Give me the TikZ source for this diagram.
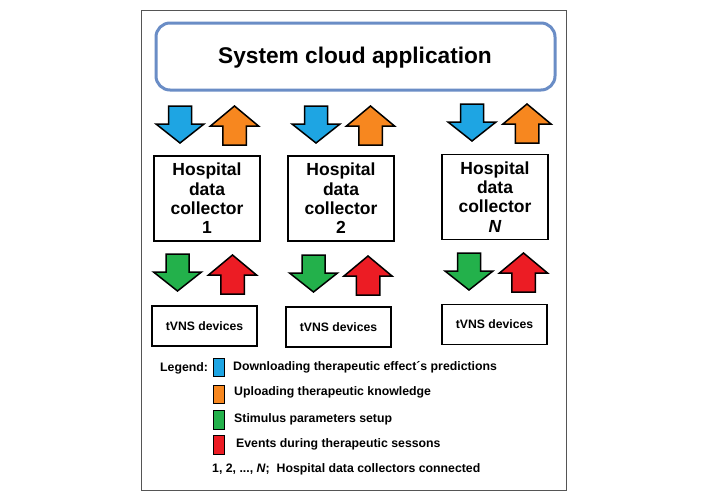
\documentclass[tikz,border=0pt]{standalone}
\usepackage{fontspec}
\setmainfont{Liberation Sans}
\definecolor{cblue}{HTML}{1EA5E3}
\definecolor{corange}{HTML}{F7871F}
\definecolor{cgreen}{HTML}{23B14B}
\definecolor{cred}{HTML}{EC1C24}
\definecolor{cloudline}{HTML}{6A8DC6}
\definecolor{framegray}{HTML}{555555}
\tikzset{
  arrline/.style={draw=black,line width=1.5pt,line join=miter},
  pics/darr/.style={code={
    \filldraw[arrline,fill=#1] (-11.5,0) -- (11.5,0) -- (11.5,18) -- (24,18) -- (0,37) -- (-24,18) -- (-11.5,18) -- cycle;}},
  pics/uarr/.style={code={
    \filldraw[arrline,fill=#1] (0,0) -- (24,20) -- (11.75,20) -- (11.75,39) -- (-11.75,39) -- (-11.75,20) -- (-24,20) -- cycle;}},
  hosp/.style={draw=black,line width=1.8pt,minimum width=106pt,minimum height=85pt,align=center,
    font=\fontsize{17.5}{19.3}\selectfont\bfseries,inner sep=0pt},
  tvns/.style={draw=black,line width=1.8pt,minimum width=105pt,minimum height=40pt,
    font=\fontsize{12.2}{14}\selectfont\bfseries,inner sep=0pt},
  legtext/.style={anchor=base west,inner sep=0pt,font=\fontsize{12.3}{14}\selectfont\bfseries},
  legbox/.style={draw=black,line width=0.6pt},
}
\begin{document}
\begin{tikzpicture}[x=1pt,y=-1pt]
\useasboundingbox[fill=white] (0,0) rectangle (706,498);
% outer frame
\draw[framegray,line width=1pt] (141,10) rectangle (566,490);
% cloud application
\draw[cloudline,line width=3pt,rounded corners=14pt] (156,23) rectangle (555,90);
\node[anchor=base,inner sep=0pt,font=\fontsize{22.7}{26}\selectfont\bfseries] (cloud) at (355,63.5) {System cloud application};
% upper arrows
\pic at (180,106) {darr=cblue};
\pic at (234.5,106) {uarr=corange};
\pic at (316,106) {darr=cblue};
\pic at (370.5,106) {uarr=corange};
\pic at (472,104) {darr=cblue};
\pic at (527,104) {uarr=corange};
% hospital data collectors
\node[hosp] (h1) at (207,198.5) {Hospital\\data\\collector\\1};
\node[hosp] (h2) at (341,198.5) {Hospital\\data\\collector\\2};
\node[hosp] (hN) at (495,197) {Hospital\\data\\collector\\\textit{N}};
% lower arrows
\pic at (177.5,254) {darr=cgreen};
\pic at (232.5,255) {uarr=cred};
\pic at (313.5,255) {darr=cgreen};
\pic at (368,256) {uarr=cred};
\pic at (469,253) {darr=cgreen};
\pic at (523.5,253) {uarr=cred};
% tVNS devices
\node[tvns] (t1) at (204.5,326) {tVNS devices};
\node[tvns] (t2) at (338.5,327) {tVNS devices};
\node[tvns] (tN) at (494.5,324.5) {tVNS devices};
% legend
\node[legtext] (leg) at (160,371.5) {Legend:};
\filldraw[legbox,fill=cblue] (213,358) rectangle (224,376);
\filldraw[legbox,fill=corange] (213,385) rectangle (224,403);
\filldraw[legbox,fill=cgreen] (213,410) rectangle (224,429);
\filldraw[legbox,fill=cred] (213,435) rectangle (224,454);
\node[legtext] (l1) at (233,370.7) {Downloading therapeutic effect´s predictions};
\node[legtext] (l2) at (234,395) {Uploading therapeutic knowledge};
\node[legtext] (l3) at (234,422.3) {Stimulus parameters setup};
\node[legtext] (l4) at (236,447.3) {Events during therapeutic sessons};
\node[legtext] (l5) at (212,472.3) {1, 2, ..., \textit{N}; \ Hospital data collectors connected};
\end{tikzpicture}
\end{document}
